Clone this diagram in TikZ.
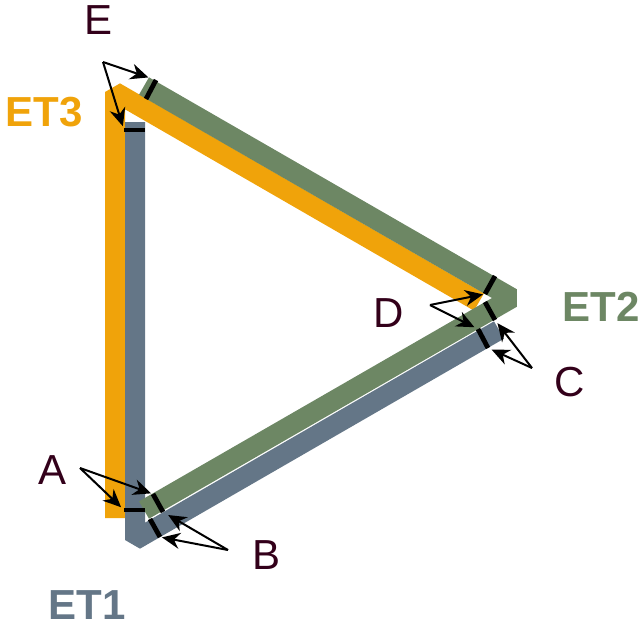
\documentclass[tikz,border=0pt]{standalone}
\usepackage{fontspec}
\setmainfont{Liberation Sans}
\usetikzlibrary{arrows.meta}
\definecolor{etgray}{HTML}{647687}
\definecolor{etgreen}{HTML}{6D8764}
\definecolor{etamber}{HTML}{F0A30A}
\definecolor{lettercol}{HTML}{33001A}
\tikzset{
  strip/.style={line width=10pt, line join=bevel},
  tickline/.style={line width=2.4pt, black},
  pointer/.style={-{Stealth[length=9pt,width=8pt]}, line width=1pt, black},
  etname/.style={font=\fontsize{21}{25}\selectfont\bfseries},
  letter/.style={text=lettercol, font=\fontsize{21}{25}\selectfont},
}
\begin{document}
\begin{tikzpicture}[x=0.5pt,y=-0.5pt]
\useasboundingbox (0,0) rectangle (642,629);
% the three bands
\draw[strip, etamber] (115,518) -- (115,92) -- (479,302);
\draw[strip, etgray] (135,122) -- (135,540) -- (499,330);
\draw[strip, etgreen] (144,86) -- (512,298) -- (144,510);
% endpoint ticks
\coordinate (ta1) at (124,510); \coordinate (ta2) at (145,510);
\coordinate (te1) at (156,80);  \coordinate (te2) at (146,99);
\coordinate (tg1) at (124,130); \coordinate (tg2) at (145,130);
\coordinate (tb1) at (153,494); \coordinate (tb2) at (163,512);
\coordinate (tb3) at (150,519); \coordinate (tb4) at (160,537);
\coordinate (td1) at (495,276); \coordinate (td2) at (485,294);
\coordinate (tc1) at (485,302); \coordinate (tc2) at (495,320);
\coordinate (tc3) at (478,329); \coordinate (tc4) at (488,348);
\draw[tickline] (ta1) -- (ta2);
\draw[tickline] (te1) -- (te2);
\draw[tickline] (tg1) -- (tg2);
\draw[tickline] (tb1) -- (tb2);
\draw[tickline] (tb3) -- (tb4);
\draw[tickline] (td1) -- (td2);
\draw[tickline] (tc1) -- (tc2);
\draw[tickline] (tc3) -- (tc4);
% names
\node[etname, text=etgray] (et1) at (87,605) {ET1};
\node[etname, text=etgreen] (et2) at (601,307) {ET2};
\node[etname, text=etamber] (et3) at (44,112) {ET3};
\node[letter] (a) at (53,470) {A};
\node[letter] (b) at (267,555) {B};
\node[letter] (c) at (570,382) {C};
\node[letter] (d) at (389,313) {D};
\node[letter] (e) at (99,20) {E};
% pointers
\coordinate (a0) at (80,468);
\coordinate (b0) at (228,550);
\coordinate (c0) at (532,368);
\coordinate (d0) at (430,305);
\coordinate (e0) at (103,62);
\draw[pointer, shorten >=2pt] (a0) -- (ta1);
\draw[pointer, shorten >=1pt] (a0) -- (tb1);
\draw[pointer, shorten >=3pt] (b0) -- (tb2);
\draw[pointer, shorten >=1pt] (b0) -- (tb4);
\draw[pointer, shorten >=2pt] (c0) -- (tc2);
\draw[pointer, shorten >=2pt] (c0) -- (tc4);
\draw[pointer, shorten >=1pt] (d0) -- (td2);
\draw[pointer, shorten >=2pt] (d0) -- (tc3);
\draw[pointer, shorten >=4pt] (e0) -- (te1);
\draw[pointer, shorten >=2pt] (e0) -- (tg1);
\end{tikzpicture}
\end{document}
